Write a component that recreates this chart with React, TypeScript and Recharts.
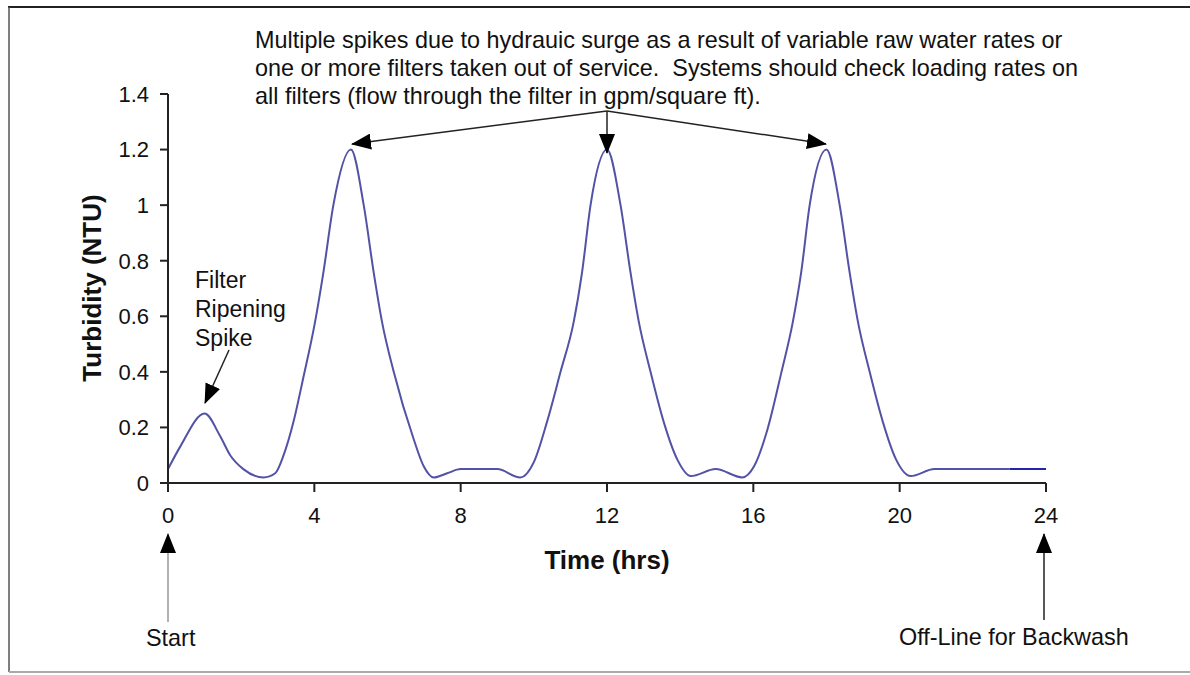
import { Line, LineChart, XAxis, YAxis } from "recharts";

// turbidity (hours, NTU)
const hours = [
  0, 0.33, 1, 1.42, 1.7, 2.06, 2.61, 2.93, 3.16, 3.43, 3.7, 4.02, 4.25, 4.52, 5, 5.35, 5.62, 5.85, 6.17, 6.71,
  6.99, 7.26, 7.63, 8, 9, 9.63, 10, 10.36, 10.73, 11.09, 11.32, 11.55, 12, 12.37, 12.64, 12.87, 13.19, 13.55,
  13.92, 14.29, 14.97, 15.7, 16.02, 16.38, 16.77, 17.08, 17.31, 17.54, 18, 18.36, 18.63, 18.86, 19.18, 19.54,
  19.9, 20.3, 20.95, 23
];
const turbidity = [
  0.05, 0.13, 0.25, 0.17, 0.1, 0.05, 0.02, 0.035, 0.1, 0.22, 0.38, 0.58, 0.76, 1.0, 1.2, 1.0, 0.76, 0.58, 0.4, 0.16,
  0.06, 0.02, 0.035, 0.05, 0.05, 0.02, 0.075, 0.22, 0.4, 0.58, 0.76, 1.0, 1.2, 1.0, 0.76, 0.58, 0.4, 0.22,
  0.085, 0.025, 0.05, 0.02, 0.06, 0.19, 0.4, 0.58, 0.76, 1.0, 1.2, 1.0, 0.76, 0.58, 0.4, 0.22,
  0.085, 0.025, 0.05, 0.05
];
const backwashHours = [23, 24];
const backwashTurbidity = [0.05, 0.05];

const hourTicks = [0, 4, 8, 12, 16, 20, 24];
const turbidityTicks = [0, 0.2, 0.4, 0.6, 0.8, 1, 1.2, 1.4];

const noteLines = [
  "Multiple spikes due to hydrauic surge as a result of variable raw water rates or",
  "one or more filters taken out of service.  Systems should check loading rates on",
  "all filters (flow through the filter in gpm/square ft)."
];
const ripeningLines = ["Filter", "Ripening", "Spike"];

const runData = hours.map((t, i) => ({ t, ntu: turbidity[i] }));
const backwashData = backwashHours.map((t, i) => ({ t, ntu: backwashTurbidity[i] }));

const FONT = '"Liberation Sans", Arial, sans-serif';
const W = 1190;
const H = 675;

export default function App() {
  const tick = { fontSize: 22, fill: "#111", fontFamily: FONT };
  const axisStroke = { stroke: "#222", strokeWidth: 2 };

  return (
    <div style={{ position: "absolute", left: 0, top: 0, width: W, height: H, background: "#fff" }}>
      <LineChart width={W} height={H} margin={{ top: 94, right: 144, bottom: 0, left: 0 }}>
        <XAxis
          type="number"
          dataKey="t"
          domain={[0, 24]}
          ticks={hourTicks}
          allowDataOverflow
          height={192}
          tickSize={9}
          tickMargin={15}
          tick={tick}
          axisLine={axisStroke}
          tickLine={axisStroke}
        />
        <YAxis
          type="number"
          dataKey="ntu"
          domain={[0, 1.4]}
          ticks={turbidityTicks}
          width={168}
          tickSize={8}
          tickMargin={11}
          tick={tick}
          axisLine={axisStroke}
          tickLine={axisStroke}
          tickFormatter={(v) => String(v)}
        />
        <Line
          data={runData}
          dataKey="ntu"
          type="monotone"
          stroke="#5252a6"
          strokeWidth={2}
          dot={false}
          activeDot={false}
          isAnimationActive={false}
        />
        <Line
          data={backwashData}
          dataKey="ntu"
          type="linear"
          stroke="#2424ad"
          strokeWidth={2}
          dot={false}
          activeDot={false}
          isAnimationActive={false}
        />
      </LineChart>

      <svg
        width={W}
        height={H}
        style={{ position: "absolute", left: 0, top: 0, pointerEvents: "none" }}
        fontFamily={FONT}
      >
        <defs>
          <marker id="head" markerUnits="userSpaceOnUse" markerWidth="20" markerHeight="16" refX="19" refY="8" orient="auto">
            <path d="M0,0 L20,8 L0,16 z" fill="#000" />
          </marker>
        </defs>

        {/* frame */}
        <line x1={8} y1={7} x2={W} y2={7} stroke="#222" strokeWidth={2} />
        <line x1={9} y1={7} x2={9} y2={672} stroke="#555" strokeWidth={1.5} />
        <line x1={9} y1={672} x2={W} y2={672} stroke="#aaa" strokeWidth={2} />

        {noteLines.map((s, i) => (
          <text key={s} x={255} y={48 + i * 28} fontSize={23.4} fill="#111" style={{ whiteSpace: "pre" }}>
            {s}
          </text>
        ))}
        <line x1={607} y1={111} x2={352} y2={144} stroke="#222" strokeWidth={1.5} markerEnd="url(#head)" />
        <line x1={607} y1={111} x2={607} y2={153} stroke="#222" strokeWidth={1.5} markerEnd="url(#head)" />
        <line x1={607} y1={111} x2={826} y2={144} stroke="#222" strokeWidth={1.5} markerEnd="url(#head)" />

        {ripeningLines.map((s, i) => (
          <text key={s} x={195} y={288 + i * 29} fontSize={23} fill="#111">
            {s}
          </text>
        ))}
        <line x1={229} y1={350} x2={205} y2={403} stroke="#222" strokeWidth={1.5} markerEnd="url(#head)" />

        <text x={92} y={288} fontSize={26} fontWeight="bold" fill="#111" textAnchor="middle" dominantBaseline="central" transform="rotate(-90 92 288)">
          Turbidity (NTU)
        </text>
        <text x={607} y={569} fontSize={26} fontWeight="bold" fill="#111" textAnchor="middle">
          Time (hrs)
        </text>

        <line x1={168} y1={622} x2={168} y2={534} stroke="#999" strokeWidth={1.5} markerEnd="url(#head)" />
        <text x={146} y={646} fontSize={23.4} fill="#111">Start</text>
        <line x1={1044} y1={620} x2={1044} y2={534} stroke="#222" strokeWidth={1.5} markerEnd="url(#head)" />
        <text x={899} y={645} fontSize={23.4} fill="#111">Off-Line for Backwash</text>
      </svg>
    </div>
  );
}
